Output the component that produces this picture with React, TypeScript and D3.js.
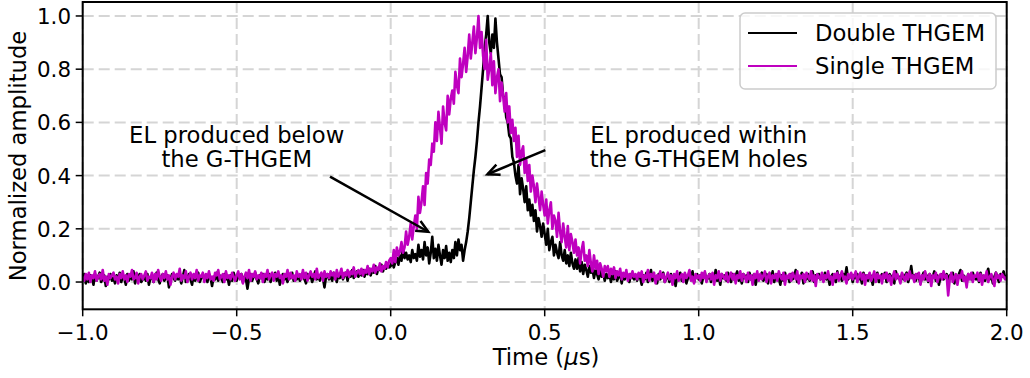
import React from 'react';
import * as d3 from 'd3';

// Sampling grid of the waveforms (µs)
const T_START = -1.0;
const T_STEP = 0.005;

const seriesNames = ['Double THGEM', 'Single THGEM'];
const seriesColors = ['#000000', '#bf00bf'];

const xTicks = [-1.0, -0.5, 0.0, 0.5, 1.0, 1.5, 2.0];
const yTicks = [0.0, 0.2, 0.4, 0.6, 0.8, 1.0];

// Single THGEM waveform (normalized amplitude), one row = 0.1 µs
const singleTHGEM: number[] = [
  .02,.005,.03,.01,.035,.0,.025,.015,.04,.005,.02,.03,.01,.045,.005,.02,-.01,.03,.015,.025,
  .035,.01,.02,-.005,.03,.015,.04,.01,.025,.0,.03,.02,.045,.01,.015,.035,-.005,.02,.03,.01,
  .025,.04,.005,.02,.015,.035,.0,.03,.01,.045,.02,.005,.03,.015,.04,.01,.025,-.01,.02,.035,
  .01,.03,.02,.05,.005,.025,.015,.04,.0,.02,.035,.01,.03,.015,.045,.005,.025,.02,.035,.0,
  .03,.015,.04,.01,.02,.005,.035,.025,.045,.01,.02,.03,.0,.04,.015,.025,.01,.035,.02,.005,
  .025,.04,.01,.03,-.005,.02,.035,.015,.045,.005,.03,.02,.04,.01,.025,.015,.035,.0,.03,.02,
  .045,.01,.025,.035,.005,.03,.02,.04,.015,.025,-.005,.03,.02,.045,.01,.035,.015,.025,.005,.04,
  .02,.03,.01,.045,.015,.035,.005,.025,.04,.02,.03,.01,.05,.015,.025,.035,.005,.04,.02,.03,
  .015,.04,.025,.035,.01,.045,.02,.03,.05,.015,.035,.025,.045,.02,.04,.03,.055,.02,.035,.045,
  .03,.05,.025,.045,.035,.06,.03,.05,.04,.065,.035,.055,.045,.07,.04,.06,.05,.075,.055,.08,
  .09,.07,.12,.075,.13,.1,.115,.15,.11,.13,.19,.14,.17,.22,.16,.21,.25,.2,.32,.26,
  .3,.36,.29,.41,.37,.46,.44,.52,.49,.6,.53,.64,.58,.52,.66,.6,.57,.7,.63,.69,
  .72,.67,.79,.74,.71,.84,.77,.82,.88,.79,.85,.93,.84,.9,.96,.86,.92,1.0,.88,.94,
  .85,.8,.91,.76,.8,.86,.74,.83,.71,.77,.8,.68,.75,.7,.64,.71,.6,.66,.56,.61,
  .53,.58,.47,.55,.44,.49,.51,.41,.46,.38,.44,.34,.4,.36,.3,.37,.32,.27,.34,.29,
  .25,.31,.22,.27,.3,.2,.25,.23,.17,.26,.19,.15,.22,.17,.13,.21,.12,.18,.15,.11,
  .16,.1,.13,.07,.12,.15,.08,.1,.06,.12,.07,.04,.1,.05,.08,.03,.07,.05,.02,.06,
  .04,.06,.02,.05,.03,.055,.015,.04,.025,.05,.01,.035,.02,.045,.005,.03,.015,.04,.02,.03,
  .01,.035,.02,.04,.0,.025,.015,.045,.005,.03,.02,.035,-.005,.025,.01,.04,.015,.03,.0,.02,
  .035,.01,.025,-.01,.03,.015,.04,.005,.02,.03,.0,.035,.015,.025,.045,.005,.02,-.005,.03,.015,
  .025,.005,.035,.015,.04,.0,.02,.03,.01,.035,-.01,.025,.015,.04,.005,.03,.02,.01,.035,.0,
  .02,.035,.01,.03,-.005,.025,.015,.04,.005,.03,.02,.0,.035,.01,.025,-.01,.03,.015,.04,.005,
  .03,.01,.025,.04,.0,.02,.035,-.005,.025,.015,.03,.005,.04,.02,.01,.035,-.01,.025,.015,.03,
  .005,.035,.02,.01,.04,-.005,.025,.015,.03,.0,.035,.02,.01,.04,.005,.025,-.015,.03,.02,.01,
  .035,.0,.025,.015,.04,.01,.02,-.01,.03,.015,.035,.005,.025,.04,.01,.02,-.005,.03,.015,.035,
  .01,.025,.04,.0,.02,.035,.01,.03,-.01,.025,.015,.035,.005,.02,.04,.0,.03,.015,.025,-.005,
  .03,.015,.035,.005,.025,-.01,.02,.04,.01,.03,.015,-.005,.035,.02,.005,.03,.01,.04,.015,.025,
  .0,.03,.015,.035,-.01,.025,.01,.04,.02,.005,.03,-.015,.025,.015,.035,.0,.02,.03,.01,.04,
  .015,.025,-.05,.01,.035,.0,.02,.03,-.01,.025,.015,.04,.005,.02,-.02,.03,.01,.035,.0,.025,
  .02,.035,.005,.03,-.01,.025,.015,.04,.0,.02,.03,.01,-.015,.035,.015,.025,.005,.03,.02,.01,
  .02,
];

// Double THGEM waveform (normalized amplitude), one row = 0.1 µs
const doubleTHGEM: number[] = [
  .01,.03,-.005,.02,.0,.025,.015,-.01,.03,.005,.02,.035,.0,.015,.025,-.015,.02,.01,.03,.005,
  .015,-.005,.025,.01,.035,.0,.02,.015,-.01,.03,.005,.025,.01,.04,-.005,.02,.015,.03,.0,.01,
  .02,.005,.03,-.01,.015,.025,.0,.02,.035,.01,-.005,.02,.03,.005,.015,.025,-.02,.01,.03,.015,
  .005,.025,.01,.035,-.005,.02,.045,.0,.015,.03,.01,-.01,.025,.005,.02,.035,.0,.015,.025,.01,
  .02,.0,.03,.015,-.015,.02,.01,.035,.005,.025,.015,.0,.03,.01,.02,-.01,.025,.005,.035,.015,
  .005,.025,.015,.03,.0,.02,.01,-.025,.015,.03,.005,.02,.035,.01,-.005,.025,.015,.03,.0,.02,
  .01,.03,.0,.02,.015,.035,.005,.025,-.01,.015,.03,.01,.02,.0,.025,.015,.035,.005,.02,.01,
  .025,.005,.02,.035,.01,-.005,.03,.015,.025,.0,.02,.04,.01,.025,.005,.03,.015,-.02,.02,.03,
  .01,.025,.005,.035,.02,.0,.03,.015,.04,.01,.025,.035,.005,.03,.02,.045,.015,.03,.04,.02,
  .035,.025,.045,.02,.04,.03,.05,.025,.045,.035,.06,.03,.05,.045,.065,.04,.06,.05,.07,.055,
  .06,.08,.055,.075,.09,.065,.1,.08,.13,.09,.11,.085,.1,.075,.12,.09,.105,.08,.14,.095,
  .12,.085,.15,.1,.13,.07,.11,.17,.09,.125,.08,.14,.1,.065,.12,.09,.135,.08,.11,.075,
  .12,.09,.15,.1,.16,.12,.14,.08,.12,.15,.19,.24,.3,.36,.42,.47,.53,.6,.66,.73,
  .8,.88,.93,1.0,.9,.86,.93,.88,.99,.9,.84,.78,.77,.7,.69,.62,.6,.55,.54,.47,
  .45,.4,.37,.44,.33,.39,.35,.3,.36,.27,.31,.25,.29,.23,.27,.19,.24,.21,.17,.22,
  .18,.14,.2,.12,.15,.17,.1,.14,.11,.09,.15,.1,.08,.12,.07,.1,.06,.11,.07,.05,
  .085,.05,.09,.04,.075,.03,.065,.045,.02,.06,.035,.05,.015,.045,.03,.01,.04,.02,.035,.005,
  .03,.015,.035,.0,.025,.01,.04,.005,.02,.03,-.005,.025,.01,.035,.015,.0,.03,.02,.01,.025,
  .005,.03,.015,-.01,.025,.01,.035,.0,.02,.045,.005,.025,.015,-.005,.03,.01,.02,.035,.0,.015,
  .025,.0,.03,.01,.02,-.015,.025,.015,.035,.005,.02,.03,-.005,.015,.025,.01,.04,.0,.02,.03,
  .01,.025,-.005,.02,.035,.005,.015,.03,.0,.025,.01,.045,.005,.02,-.01,.03,.015,.025,.005,.035,
  .015,.0,.03,.01,.025,.04,.005,.02,-.005,.03,.015,.025,.0,.035,.01,.02,.03,-.01,.025,.01,
  .02,.035,.005,.015,.03,-.005,.025,.01,.04,.0,.02,.03,.015,-.01,.025,.005,.035,.015,.02,.0,
  .03,.01,.025,.045,.0,.02,.015,.035,-.005,.025,.01,.03,.005,.02,.04,.0,.025,.015,.03,.01,
  .02,.005,.035,.01,.025,-.01,.02,.03,.015,.0,.04,.01,.025,.005,.03,.015,.055,.01,.02,.03,
  .0,.025,.015,.03,.01,.02,-.005,.035,.015,.025,.005,.03,.02,-.01,.025,.01,.035,.0,.02,.03,
  .015,.035,.0,.02,.03,.01,.025,-.005,.04,.015,.02,.005,.03,.01,.025,.035,.0,.02,.06,.015,
  .025,.005,.03,.015,-.005,.02,.035,.01,.025,.0,.03,.015,.02,.04,.005,.025,-.01,.02,.03,.01,
  .02,.03,.005,.025,.015,.035,-.005,.02,.01,.03,.045,.005,.025,.015,.0,.03,.02,.01,.035,.015,
  .01,.025,.0,.035,.015,.02,.005,.03,.05,.01,.025,-.005,.02,.035,.015,.0,.03,.02,.04,.015,
  .025,
];

// Annotations (data coordinates)
const annotations = [
  { lines: ['EL produced below', 'the G-THGEM'], textX: -0.5, textY: [0.523, 0.432], from: [-0.197, 0.396], to: [0.122, 0.189] },
  { lines: ['EL produced within', 'the G-THGEM holes'], textX: 1.0, textY: [0.523, 0.432], from: [0.502, 0.496], to: [0.314, 0.405] },
];

const FONT = "'DejaVu Sans', sans-serif";

export default function App() {
  const W = 1030, H = 378;
  const left = 82.7, right = 1006.7, top = 2, bottom = 309.3;
  const x = d3.scaleLinear().domain([-1, 2]).range([left, right]);
  const y = d3.scaleLinear().domain([-0.1025, 1.0525]).range([bottom, top]);
  const line = d3.line<number>().x((_, i) => x(T_START + i * T_STEP)).y((d) => y(d));
  const fmt = (v: number) => v.toFixed(1).replace('-', '\u2212');
  const fs = 22.7;
  const tfs = 21.4;

  const arrowHead = (fx: number, fy: number, tx: number, ty: number) => {
    const ang = Math.atan2(ty - fy, tx - fx);
    const L = 12, Wd = 5.5;
    const bx = tx - L * Math.cos(ang), by = ty - L * Math.sin(ang);
    const px = -Math.sin(ang), py = Math.cos(ang);
    return `M${bx + px * Wd},${by + py * Wd}L${tx},${ty}L${bx - px * Wd},${by - py * Wd}`;
  };

  const series = [doubleTHGEM, singleTHGEM];

  return (
    <svg width={W} height={H} style={{ position: 'absolute', left: 0, top: 0, background: '#fff' }} fontFamily={FONT}>
      <defs>
        <clipPath id="plotclip">
          <rect x={left} y={top} width={right - left} height={bottom - top} />
        </clipPath>
      </defs>
      <rect x={0} y={0} width={W} height={H} fill="#fff" />
      {/* grid */}
      <g stroke="#d5d5d5" strokeWidth={2} strokeDasharray="11,5">
        {xTicks.map((t) => (
          <line key={'gx' + t} x1={x(t)} x2={x(t)} y1={top} y2={bottom} />
        ))}
        {yTicks.map((t) => (
          <line key={'gy' + t} x1={left} x2={right} y1={y(t)} y2={y(t)} />
        ))}
      </g>
      {/* data */}
      <g clipPath="url(#plotclip)" fill="none" strokeLinejoin="round">
        {series.map((s, k) => (
          <path key={k} d={line(s) || ''} stroke={seriesColors[k]} strokeWidth={2.6} />
        ))}
      </g>
      {/* annotations */}
      {annotations.map((a, k) => {
        const fx = x(a.from[0]), fy = y(a.from[1]), tx = x(a.to[0]), ty = y(a.to[1]);
        return (
          <g key={'an' + k}>
            {a.lines.map((ln, j) => (
              <text key={j} x={x(a.textX)} y={y(a.textY[j])} textAnchor="middle" fontSize={fs} fill="#000">{ln}</text>
            ))}
            <line x1={fx} y1={fy} x2={tx} y2={ty} stroke="#000" strokeWidth={2.5} />
            <path d={arrowHead(fx, fy, tx, ty)} fill="none" stroke="#000" strokeWidth={2.5} />
          </g>
        );
      })}
      {/* frame */}
      <rect x={left} y={top} width={right - left} height={bottom - top} fill="none" stroke="#000" strokeWidth={2} />
      {/* x ticks */}
      {xTicks.map((t) => (
        <g key={'xt' + t}>
          <line x1={x(t)} x2={x(t)} y1={bottom} y2={bottom + 7} stroke="#000" strokeWidth={1.5} />
          <text x={x(t)} y={339.5} textAnchor="middle" fontSize={tfs} fill="#000">{fmt(t)}</text>
        </g>
      ))}
      {/* y ticks */}
      {yTicks.map((t) => (
        <g key={'yt' + t}>
          <line x1={left - 7} x2={left} y1={y(t)} y2={y(t)} stroke="#000" strokeWidth={1.5} />
          <text x={71} y={y(t) + 8} textAnchor="end" fontSize={tfs} fill="#000">{fmt(t)}</text>
        </g>
      ))}
      {/* axis labels */}
      <text x={546} y={365} textAnchor="middle" fontSize={fs} fill="#000">
        Time (<tspan fontStyle="italic">μ</tspan>s)
      </text>
      <text transform={`translate(26,156) rotate(-90)`} textAnchor="middle" fontSize={fs} fill="#000">Normalized amplitude</text>
      {/* legend */}
      <g>
        <rect x={740} y={13} width={256} height={76} rx={5} fill="#fff" fillOpacity={0.8} stroke="#cccccc" strokeWidth={1.5} />
        {seriesNames.map((n, k) => (
          <g key={'lg' + k}>
            <line x1={748} x2={797} y1={33 + k * 33} y2={33 + k * 33} stroke={seriesColors[k]} strokeWidth={2.2} />
            <text x={815} y={41 + k * 33} fontSize={fs} fill="#000">{n}</text>
          </g>
        ))}
      </g>
    </svg>
  );
}
